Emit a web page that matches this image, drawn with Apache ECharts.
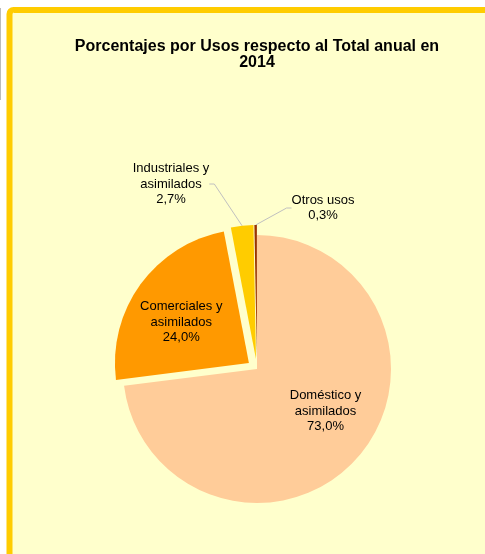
<!DOCTYPE html>
<html lang="es">
<head>
  <meta charset="UTF-8">
  <title>Porcentajes por Usos</title>
  <script src="https://cdn.jsdelivr.net/npm/echarts@6/dist/echarts.min.js"></script>
  <style>
    html, body { margin: 0; padding: 0; background: #fff; }
    #chart { width: 485px; height: 554px; }
  </style>
</head>
<body>
  <div id="chart"></div>
  <script>
    // datos
    var usos = ['Doméstico y\nasimilados', 'Comerciales y\nasimilados', 'Industriales y\nasimilados', 'Otros usos'];
    var porcentajes = [73.0, 24.0, 2.7, 0.3];
    var colores = ['#FFCC99', '#FF9900', '#FFCC00', '#993300'];
    var separados = [false, true, true, true];
    var etiquetaFuera = [false, false, true, true];

    var myChart = echarts.init(document.getElementById('chart'));

    function textoEtiqueta(p) {
      return p.name + '\n' + p.value.toFixed(1).replace('.', ',') + '%';
    }

    var estiloTexto = {
      fontFamily: 'Liberation Sans, Arial',
      fontSize: 13, lineHeight: 15.5,
      color: '#000', align: 'center'
    };

    // porciones (las pequeñas van separadas)
    var datos = usos.map(function (u, i) {
      return {
        name: u,
        value: porcentajes[i],
        selected: separados[i],
        itemStyle: { color: colores[i] },
        label: { show: !etiquetaFuera[i] }
      };
    });

    // serie "fantasma" transparente solo para las etiquetas exteriores
    var datosEtiquetas = usos.map(function (u, i) {
      return {
        name: u,
        value: porcentajes[i],
        label: { show: etiquetaFuera[i] },
        labelLine: { show: etiquetaFuera[i] }
      };
    });

    var option = {
      animation: false,
      backgroundColor: '#ffffff',
      graphic: [
        // marco amarillo del gráfico
        {
          type: 'rect', z: -10,
          shape: { x: 9.5, y: 10, width: 500, height: 560, r: 4 },
          style: { fill: '#FFFFCC', stroke: '#FFCC00', lineWidth: 6 }
        },
        {
          type: 'line', z: -10,
          shape: { x1: 0.5, y1: 8, x2: 0.5, y2: 100 },
          style: { stroke: '#bbbbbb', lineWidth: 1 }
        }
      ],
      title: {
        text: 'Porcentajes por Usos respecto al Total anual en\n2014',
        left: 252, top: 34, textAlign: 'center',
        textStyle: {
          fontFamily: 'Liberation Sans, Arial', fontSize: 16,
          fontWeight: 'bold', color: '#000', lineHeight: 16
        }
      },
      series: [
        {
          type: 'pie',
          center: [257, 369],
          radius: 134,
          startAngle: 90,
          clockwise: true,
          selectedMode: 'multiple',
          selectedOffset: 10,
          avoidLabelOverlap: false,
          data: datos,
          label: Object.assign({ position: 'inside', formatter: textoEtiqueta }, estiloTexto),
          labelLine: { show: false },
          labelLayout: function (p) {
            if (p.dataIndex === 0) return { dx: 16, dy: -4 };
            if (p.dataIndex === 1) return { dx: -11, dy: 0 };
          },
          emphasis: { disabled: true }
        },
        {
          type: 'pie',
          silent: true,
          center: [257, 369],
          radius: 144,
          startAngle: 90,
          clockwise: true,
          avoidLabelOverlap: false,
          data: datosEtiquetas,
          itemStyle: { color: 'rgba(0,0,0,0)' },
          label: Object.assign({ position: 'outside', formatter: textoEtiqueta }, estiloTexto),
          labelLine: {
            length: 20, length2: 5,
            lineStyle: { color: '#c0c0c0', width: 1 }
          },
          labelLayout: function (p) {
            if (p.dataIndex === 2) return { x: 171, y: 184, align: 'center', verticalAlign: 'middle' };
            if (p.dataIndex === 3) return { x: 323, y: 208, align: 'center', verticalAlign: 'middle' };
          },
          emphasis: { disabled: true }
        }
      ]
    };

    myChart.setOption(option);
  </script>
</body>
</html>
